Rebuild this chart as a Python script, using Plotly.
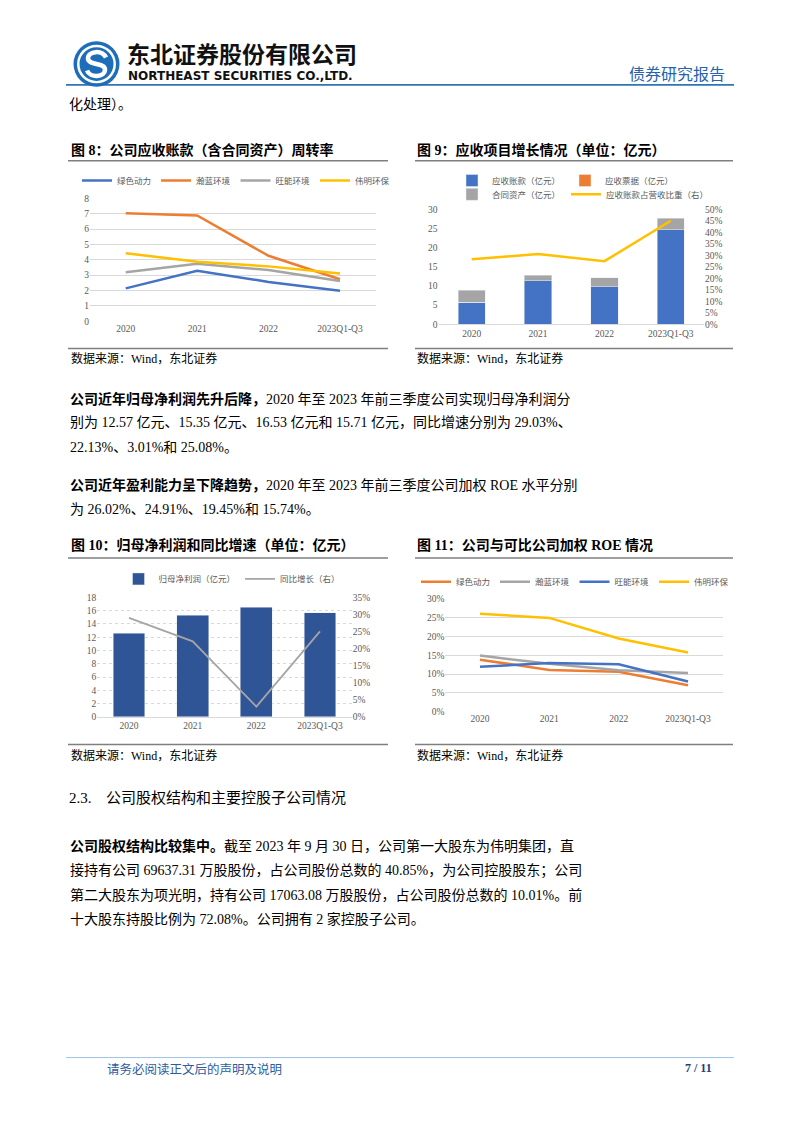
import plotly.graph_objects as go

# The page body keeps the browser's default 8px margin, so the figure is drawn
# 8px smaller on each side and all page-pixel positions are offset by 8.
PAGE_W, PAGE_H = 802, 1133
OFF = 8
W, H = PAGE_W - 2 * OFF, PAGE_H - 2 * OFF


def fx(px):
    return (px - OFF) / W


def fy(py):
    return 1 - (py - OFF) / H


# ---------------- data ----------------
categories = ["2020", "2021", "2022", "2023Q1-Q3"]

# Fig 8: receivables turnover
fig8_names = ["绿色动力", "瀚蓝环境", "旺能环境", "伟明环保"]
turnover_lvse = [2.14, 3.29, 2.56, 1.98]
turnover_hanlan = [7.03, 6.88, 4.26, 2.73]
turnover_wangneng = [3.18, 3.74, 3.33, 2.62]
turnover_weiming = [4.43, 3.87, 3.57, 3.10]

# Fig 9: receivable items (100m CNY) and ratio to revenue
receivable_accounts = [5.7, 11.3, 9.75, 24.6]
receivable_notes = [0.0, 0.0, 0.0, 0.0]
contract_assets = [3.1, 1.45, 2.4, 3.0]
receivable_ratio = [0.282, 0.305, 0.274, 0.450]

# Fig 10: net profit attributable (100m CNY) and YoY growth
net_profit = [12.57, 15.35, 16.53, 15.71]
profit_growth = [0.2903, 0.2213, 0.0301, 0.2508]

# Fig 11: weighted ROE
fig11_names = ["绿色动力", "瀚蓝环境", "旺能环境", "伟明环保"]
roe_lvse = [0.138, 0.111, 0.106, 0.070]
roe_hanlan = [0.149, 0.127, 0.110, 0.103]
roe_wangneng = [0.119, 0.129, 0.126, 0.080]
roe_weiming = [0.2602, 0.2491, 0.1945, 0.1574]

# ---------------- styles ----------------
BLUE = "#4472C4"
ORANGE = "#ED7D31"
GRAY = "#A5A5A5"
YELLOW = "#FFC000"
NAVY = "#2F5597"
GRID = "#D9D9D9"
TICK = "#595959"
SERIF = "Liberation Serif, Noto Sans CJK SC"
CJK = "Noto Sans CJK SC"
tickfont = dict(family=SERIF, size=9.5, color=TICK)
legfont = dict(family=CJK, size=8.5, color=TICK)

fig = go.Figure()

# Fig 8 traces
for name, vals, col in zip(
    fig8_names,
    [turnover_lvse, turnover_hanlan, turnover_wangneng, turnover_weiming],
    [BLUE, ORANGE, GRAY, YELLOW],
):
    fig.add_trace(go.Scatter(x=categories, y=vals, name=name, mode="lines",
                             line=dict(color=col, width=2.5),
                             xaxis="x", yaxis="y", legend="legend"))

# Fig 9 traces
fig.add_trace(go.Bar(x=categories, y=receivable_accounts, name="应收账款（亿元）",
                     marker_color=BLUE, width=0.41, xaxis="x2", yaxis="y2", legend="legend2"))
fig.add_trace(go.Bar(x=categories, y=receivable_notes, name="应收票据（亿元）",
                     marker_color=ORANGE, width=0.41, xaxis="x2", yaxis="y2", legend="legend2"))
fig.add_trace(go.Bar(x=categories, y=contract_assets, name="合同资产（亿元）",
                     marker_color=GRAY, width=0.41, xaxis="x2", yaxis="y2", legend="legend3"))
fig.add_trace(go.Scatter(x=categories, y=receivable_ratio, name="应收账款占营收比重（右）",
                         mode="lines", line=dict(color=YELLOW, width=2.5),
                         xaxis="x2", yaxis="y3", legend="legend6"))

# Fig 10 traces
fig.add_trace(go.Bar(x=categories, y=net_profit, name="归母净利润（亿元）",
                     marker_color=NAVY, width=0.5, xaxis="x3", yaxis="y4", legend="legend4"))
fig.add_trace(go.Scatter(x=categories, y=profit_growth, name="同比增长（右）",
                         mode="lines", line=dict(color=GRAY, width=1.8),
                         xaxis="x3", yaxis="y5", legend="legend4"))

# Fig 11 traces
for name, vals, col in zip(
    fig11_names,
    [roe_lvse, roe_hanlan, roe_wangneng, roe_weiming],
    [ORANGE, GRAY, BLUE, YELLOW],
):
    fig.add_trace(go.Scatter(x=categories, y=vals, name=name, mode="lines",
                             line=dict(color=col, width=2.5),
                             xaxis="x4", yaxis="y6", legend="legend5"))


def xcat(domain, anchor, showline=False):
    return dict(domain=[fx(domain[0]), fx(domain[1])], anchor=anchor, type="category",
                range=[-0.5, 3.5], showgrid=False, zeroline=False, ticks="",
                tickfont=tickfont, showline=showline, linecolor=GRID, linewidth=1,
                fixedrange=True)


def yax(domain, anchor, rng, dtick, grid=True, fmt=None, side="left", overlaying=None, dash="solid"):
    d = dict(domain=[fy(domain[1]), fy(domain[0])], anchor=anchor, range=rng, dtick=dtick,
             showgrid=grid, gridcolor=GRID, gridwidth=1, griddash=dash, zeroline=False,
             ticks="", tickfont=tickfont, side=side, showline=False, fixedrange=True)
    if fmt:
        d["tickformat"] = fmt
    if overlaying:
        d["overlaying"] = overlaying
        d.pop("domain")
    return d


def legend(x, y, xanchor="center", entrywidth=None):
    d = dict(orientation="h", x=fx(x), y=fy(y), xanchor=xanchor, yanchor="middle",
             font=legfont, bgcolor="rgba(0,0,0,0)", itemclick=False, itemdoubleclick=False,
             tracegroupgap=0, traceorder="normal")
    if entrywidth:
        d["entrywidth"] = entrywidth
        d["entrywidthmode"] = "pixels"
    return d


# ---------------- text ----------------
annotations = []


def txt(x, y, s, size=14, color="#000000", family=SERIF, xanchor="left"):
    annotations.append(dict(x=fx(x), y=fy(y), xref="paper", yref="paper", text=s,
                            showarrow=False, xanchor=xanchor, yanchor="middle",
                            font=dict(family=family, size=size, color=color)))


# header
txt(125, 48, "<b>东北证券股份有限公司</b>", size=23, family=CJK, color="#111111")
txt(126, 71.5, "<b>NORTHEAST SECURITIES CO.,LTD.</b>", size=12, family="DejaVu Sans",
    color="#111111")
txt(727, 68.5, "债券研究报告", size=16, family=CJK, color="#2563AE", xanchor="right")
txt(67, 100, "化处理）。", size=14)

# chart titles & sources
txt(69, 146, "<b>图 8：公司应收账款（含合同资产）周转率</b>", size=14)
txt(415, 146, "<b>图 9：应收项目增长情况（单位：亿元）</b>", size=14)
txt(69, 357, "数据来源：Wind，东北证券", size=12)
txt(415, 357, "数据来源：Wind，东北证券", size=12)
txt(69, 545, "<b>图 10：归母净利润和同比增速（单位：亿元）</b>", size=14)
txt(415, 545, "<b>图 11：公司与可比公司加权 ROE 情况</b>", size=14)
txt(69, 757, "数据来源：Wind，东北证券", size=12)
txt(415, 757, "数据来源：Wind，东北证券", size=12)

# paragraphs
para1 = [
    "<b>公司近年归母净利润先升后降，</b>2020 年至 2023 年前三季度公司实现归母净利润分",
    "别为 12.57 亿元、15.35 亿元、16.53 亿元和 15.71 亿元，同比增速分别为 29.03%、",
    "22.13%、3.01%和 25.08%。",
]
para2 = [
    "<b>公司近年盈利能力呈下降趋势，</b>2020 年至 2023 年前三季度公司加权 ROE 水平分别",
    "为 26.02%、24.91%、19.45%和 15.74%。",
]
para3 = [
    "<b>公司股权结构比较集中。</b>截至 2023 年 9 月 30 日，公司第一大股东为伟明集团，直",
    "接持有公司 69637.31 万股股份，占公司股份总数的 40.85%，为公司控股股东；公司",
    "第二大股东为项光明，持有公司 17063.08 万股股份，占公司股份总数的 10.01%。前",
    "十大股东持股比例为 72.08%。公司拥有 2 家控股子公司。",
]
LINE = 24.5
for i, s in enumerate(para1):
    txt(68, 397 + i * LINE, s)
for i, s in enumerate(para2):
    txt(68, 484.5 + i * LINE, s)
txt(67, 800, "2.3.", size=15)
txt(104, 800, "公司股权结构和主要控股子公司情况", size=15)
for i, s in enumerate(para3):
    txt(68, 848.5 + i * LINE, s)

# footer
txt(105, 1073, "请务必阅读正文后的声明及说明", size=12.5, family=CJK, color="#2E5C9E")
txt(714, 1073, "<b>7 / 11</b>", size=12, family="Liberation Serif", color="#1F3F7A",
    xanchor="right")

# ---------------- shapes ----------------
shapes = []


def hline(y, x0, x1, color, width):
    shapes.append(dict(type="line", xref="paper", yref="paper", x0=fx(x0), x1=fx(x1),
                       y0=fy(y), y1=fy(y), line=dict(color=color, width=width)))


def circle(cx, cy, r, color):
    shapes.append(dict(type="circle", xref="paper", yref="paper", x0=fx(cx - r), x1=fx(cx + r),
                       y0=fy(cy + r), y1=fy(cy - r), fillcolor=color, line=dict(width=0)))


hline(80.5, 66, 734, "#2E75B6", 1.8)
hline(157, 68, 388, "#7F7F7F", 1.5)
hline(157, 415, 733, "#7F7F7F", 1.5)
hline(346.5, 68, 388, "#7F7F7F", 1.5)
hline(346.5, 415, 733, "#7F7F7F", 1.5)
hline(558, 68, 388, "#7F7F7F", 1.5)
hline(558, 415, 733, "#7F7F7F", 1.5)
hline(746, 68, 388, "#7F7F7F", 1.5)
hline(746, 415, 733, "#7F7F7F", 1.5)
hline(1062, 66, 734, "#9DC3E6", 1)

# logo
circle(96.5, 59.5, 23, "#1E6DB8")
circle(96.5, 59.5, 19.5, "#FFFFFF")
circle(96.5, 59.5, 17, "#1E6DB8")


def p(x, y):
    return f"{fx(x):.5f},{fy(y):.5f}"


s_path = ("M" + p(106, 53) + " C" + p(102, 45) + " " + p(88, 46) + " " + p(88, 54)
          + " C" + p(88, 61) + " " + p(105, 58) + " " + p(105, 65)
          + " C" + p(105, 73) + " " + p(90, 74) + " " + p(87, 66))
shapes.append(dict(type="path", xref="paper", yref="paper", path=s_path,
                   line=dict(color="#FFFFFF", width=4.5)))

# ---------------- layout ----------------
fig.update_layout(
    width=W, height=H, margin=dict(l=0, r=0, t=0, b=0),
    paper_bgcolor="#FFFFFF", plot_bgcolor="rgba(0,0,0,0)",
    barmode="stack", showlegend=True, hovermode=False,
    xaxis=xcat((90, 375.7), "y"),
    yaxis=yax((195, 319), "x", [0, 8], 1),
    xaxis2=xcat((438.5, 704), "y2", showline=True),
    yaxis2=yax((206, 322), "x2", [0, 30], 5, grid=False),
    yaxis3=yax((206, 322), "x2", [0, 0.5], 0.05, grid=False, fmt=".0%", side="right",
               overlaying="y2"),
    xaxis3=xcat((97.2, 351.8), "y4", showline=True),
    yaxis4=yax((597.7, 718.3), "x3", [0, 18], 2, dash="dot"),
    yaxis5=yax((597.7, 718.3), "x3", [0, 0.35], 0.05, grid=False, fmt=".0%", side="right",
               overlaying="y4"),
    xaxis4=xcat((445.3, 722.7), "y6"),
    yaxis6=yax((599, 713), "x4", [0, 0.30], 0.05, fmt=".0%"),
    legend=legend(236, 177),
    legend2=legend(452, 177, xanchor="left", entrywidth=68),
    legend3=legend(452, 191, xanchor="left", entrywidth=68),
    legend6=legend(566, 191, xanchor="left"),
    legend4=legend(232, 579),
    legend5=legend(575, 582),
    annotations=annotations,
    shapes=shapes,
)

fig.write_html("out.html", config={"displayModeBar": False})
